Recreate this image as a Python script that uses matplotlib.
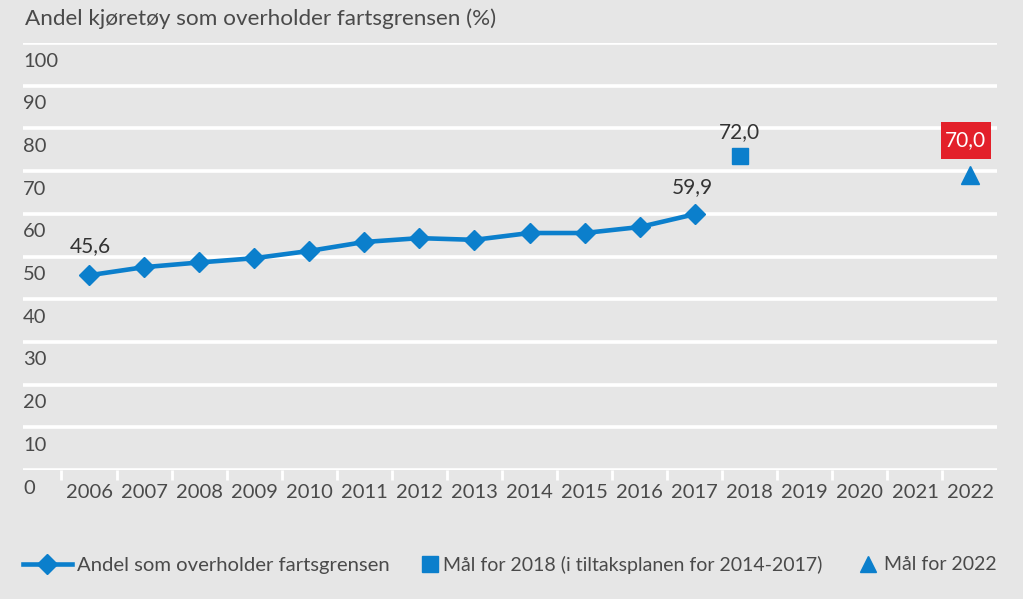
import matplotlib
matplotlib.use("Agg")
import matplotlib.pyplot as plt
from matplotlib.ticker import FixedLocator
from matplotlib.path import Path

plt.rcParams['font.family'] = ['Lato', 'DejaVu Sans']

years = ["2006", "2007", "2008", "2009", "2010", "2011", "2012", "2013",
         "2014", "2015", "2016", "2017", "2018", "2019", "2020", "2021", "2022"]
andel = [45.6, 47.5, 48.6, 49.6, 51.3, 53.4, 54.3, 53.9, 55.5, 55.5, 56.9, 59.9]
maal_2018 = 72.0
maal_2022 = 70.0
yticks = [0, 10, 20, 30, 40, 50, 60, 70, 80, 90, 100]

BG = "#e6e6e6"
BLUE = "#0b7fcc"
TXT = "#4a4a4a"
RED = "#e3202a"
FS = 14.5

fig = plt.figure(figsize=(10.23, 5.99), dpi=100, facecolor=BG)
ax = fig.add_axes([23/1023, 1-470/599, (997-23)/1023, (470-43)/599])
ax.set_facecolor(BG)
for s in ax.spines.values():
    s.set_visible(False)

x_andel = list(range(len(andel)))
i2018 = years.index("2018")
i2022 = years.index("2022")
x2018 = i2018 - 0.18  # target marker drawn slightly left of category centre

ax.set_xlim(-1.199, 16.49)
ax.set_ylim(0, 100)

for yv in yticks:
    ax.axhline(yv, color="white", lw=2.6, zorder=1)
    ax.annotate(str(yv), xy=(0, yv), xycoords=("axes fraction", "data"),
                xytext=(0, -13), textcoords="offset points",
                ha="left", va="center", fontsize=FS, color=TXT)

ax.set_yticks([])
ax.xaxis.set_major_locator(FixedLocator(range(len(years))))
ax.set_xticklabels(years, fontsize=FS, color=TXT)
ax.xaxis.set_minor_locator(FixedLocator([i - 0.5 for i in range(len(years) + 1)]))
ax.tick_params(axis="x", which="major", length=0, pad=10)
ax.tick_params(axis="x", which="minor", length=7, width=2, color="white")

l1, = ax.plot(x_andel, andel, color=BLUE, lw=3.3, marker="D", markersize=10.5,
              zorder=3, label="Andel som overholder fartsgrensen")
l2, = ax.plot([x2018], [maal_2018 + 1.5], ls="none", marker="s", markersize=11.5,
              color=BLUE, zorder=3, label="Mål for 2018 (i tiltaksplanen for 2014-2017)")
l3, = ax.plot([i2022], [maal_2022 - 1], ls="none", marker="^", markersize=12.5,
              color=BLUE, zorder=3, label="Mål for 2022")

def fmt(v):
    return f"{v:.1f}".replace(".", ",")

def label_box(x0, y0, width, height, mutation_size):
    px, py = 0.22 * mutation_size, 0.42 * mutation_size
    x0, y0 = x0 - px, y0 - py
    x1, y1 = x0 + width + 2 * px, y0 + height + 2 * py
    return Path([(x0, y0), (x1, y0), (x1, y1), (x0, y1), (x0, y0)], closed=True)

LFS = 15
ax.annotate(fmt(andel[0]), xy=(0, andel[0]), xytext=(1, 14), textcoords="offset points",
            ha="center", va="bottom", fontsize=LFS, color="#333333")
ax.annotate(fmt(andel[-1]), xy=(len(andel) - 1, andel[-1]), xytext=(-2, 12),
            textcoords="offset points", ha="center", va="bottom", fontsize=LFS, color="#333333")
ax.annotate(fmt(maal_2018), xy=(x2018, maal_2018 + 1.5), xytext=(0, 10),
            textcoords="offset points", ha="center", va="bottom", fontsize=LFS, color="#333333")
ax.annotate(fmt(maal_2022), xy=(i2022, maal_2022 - 1), xytext=(-3, 18),
            textcoords="offset points", ha="center", va="bottom", fontsize=LFS, color="white",
            bbox=dict(boxstyle=label_box, fc=RED, ec="none"))

fig.text(25/1023, 1-19/599, "Andel kjøretøy som overholder fartsgrensen (%)",
         ha="left", va="center", fontsize=16.2, color=TXT)

ly = 1 - 565/599
common = dict(loc="center left", frameon=False, labelcolor=TXT,
              borderaxespad=0, borderpad=0)
leg1 = fig.legend(handles=[l1], bbox_to_anchor=(23/1023, ly), handlelength=2.4,
                  handletextpad=0.25, fontsize=14.6, **common)
leg2 = fig.legend(handles=[l2], bbox_to_anchor=(420/1023, ly), handlelength=1.05,
                  handletextpad=0.15, fontsize=14.0, **common)
leg3 = fig.legend(handles=[l3], bbox_to_anchor=(858/1023, ly), handlelength=1.05,
                  handletextpad=0.3, fontsize=14.0, **common)
leg2.legend_handles[0].set_markersize(11)
leg3.legend_handles[0].set_markersize(11.5)

fig.savefig("out.png", dpi=100, facecolor=BG)
